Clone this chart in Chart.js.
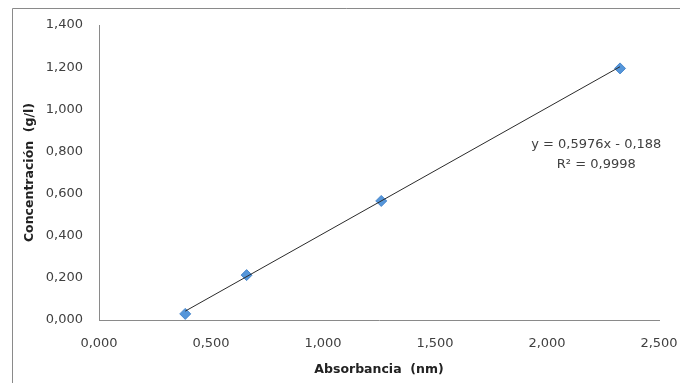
<!DOCTYPE html>
<html>
<head>
<meta charset="utf-8">
<script src="https://cdn.jsdelivr.net/npm/chart.js@4/dist/chart.umd.min.js"></script>
<style>
  html, body { margin: 0; padding: 0; background: #ffffff; }
  #wrap { width: 680px; height: 383px; position: relative; }
</style>
</head>
<body>
<div id="wrap"><canvas id="chart" width="680" height="383"></canvas></div>
<script>
// Calibration readings: absorbance vs concentration
const absorbancia = [0.385, 0.659, 1.260, 2.326];
const concentracion = [0.029, 0.213, 0.565, 1.194];

// Linear fit reported for the series
const SLOPE = 0.5976;
const INTERCEPT = -0.188;
const R2 = 0.9998;

const X_TICK_LABELS = ['0,000', '0,500', '1,000', '1,500', '2,000', '2,500'];
const Y_TICK_LABELS = ['0,000', '0,200', '0,400', '0,600', '0,800', '1,000', '1,200', '1,400'];

const FONT = 'DejaVu Sans';
const fmt = (v, d) => v.toFixed(d).replace('.', ',');

const points = absorbancia.map((x, i) => ({ x: x, y: concentracion[i] }));
const xMin = Math.min(...absorbancia);
const xMax = Math.max(...absorbancia);
const trend = [xMin, xMax].map(x => ({ x: x, y: SLOPE * x + INTERCEPT }));

const eqLines = [
  'y = ' + fmt(SLOPE, 4) + 'x - ' + fmt(-INTERCEPT, 3),
  'R\u00B2 = ' + fmt(R2, 4)
];

// Outer chart frame
const framePlugin = {
  id: 'frame',
  beforeDraw(chart) {
    const ctx = chart.ctx;
    ctx.save();
    ctx.fillStyle = '#ffffff';
    ctx.fillRect(0, 0, chart.width, chart.height);
    ctx.strokeStyle = '#8a8a8a';
    ctx.lineWidth = 1;
    ctx.beginPath();
    ctx.moveTo(12.5, chart.height + 2);
    ctx.lineTo(12.5, 8.5);
    ctx.lineTo(chart.width + 2, 8.5);
    ctx.stroke();
    ctx.restore();
  }
};

// Trendline equation label, anchored in data space
const equationPlugin = {
  id: 'equation',
  afterDatasetsDraw(chart) {
    const { ctx, scales } = chart;
    const cx = scales.x.getPixelForValue(2.22);
    const y1 = scales.y.getPixelForValue(0.830);
    const y2 = scales.y.getPixelForValue(0.737);
    ctx.save();
    ctx.font = '13px "' + FONT + '"';
    ctx.fillStyle = '#404040';
    ctx.textAlign = 'center';
    ctx.textBaseline = 'middle';
    ctx.fillText(eqLines[0], cx, y1);
    ctx.fillText(eqLines[1], cx, y2);
    ctx.restore();
  }
};

new Chart(document.getElementById('chart'), {
  type: 'scatter',
  data: {
    datasets: [
      {
        label: 'Lineal',
        type: 'line',
        data: trend,
        borderColor: '#2b2b2b',
        borderWidth: 1,
        pointRadius: 0,
        fill: false,
        tension: 0
      },
      {
        label: 'Concentración',
        data: points,
        pointStyle: 'rectRot',
        pointRadius: 5.5,
        pointHoverRadius: 5.5,
        backgroundColor: '#5596da',
        borderColor: '#4a88cc',
        borderWidth: 1
      }
    ]
  },
  options: {
    responsive: false,
    animation: false,
    devicePixelRatio: 1,
    layout: { padding: { top: 25, right: 21, left: 0, bottom: 0 } },
    plugins: {
      legend: { display: false },
      tooltip: { enabled: false }
    },
    scales: {
      x: {
        type: 'linear',
        min: 0,
        max: 2.5,
        ticks: {
          stepSize: 0.5,
          padding: 16,
          color: '#404040',
          font: { family: FONT, size: 13 },
          maxRotation: 0,
          callback: (v, i) => X_TICK_LABELS[i]
        },
        grid: { drawOnChartArea: false, drawTicks: false },
        border: { display: true, color: '#8a8a8a', width: 1 },
        title: {
          display: true,
          text: 'Absorbancia  (nm)',
          color: '#222222',
          font: { family: FONT, size: 12.5, weight: 'bold' },
          padding: { top: 0, bottom: 6 }
        },
        afterFit(scale) {
          scale.height = 63;
          scale.paddingLeft = 0;
          scale.paddingRight = 0;
        }
      },
      y: {
        type: 'linear',
        min: 0,
        max: 1.4,
        ticks: {
          stepSize: 0.2,
          padding: 16,
          color: '#404040',
          font: { family: FONT, size: 13 },
          callback: (v, i) => Y_TICK_LABELS[i]
        },
        grid: { drawOnChartArea: false, drawTicks: false },
        border: { display: true, color: '#8a8a8a', width: 1 },
        title: {
          display: true,
          text: 'Concentración  (g/l)',
          color: '#222222',
          font: { family: FONT, size: 12.5, weight: 'bold' },
          padding: { top: 22, bottom: 0 }
        },
        afterFit(scale) {
          scale.width = 99;
          scale.paddingTop = 0;
          scale.paddingBottom = 0;
        }
      }
    }
  },
  plugins: [framePlugin, equationPlugin]
});
</script>
</body>
</html>
